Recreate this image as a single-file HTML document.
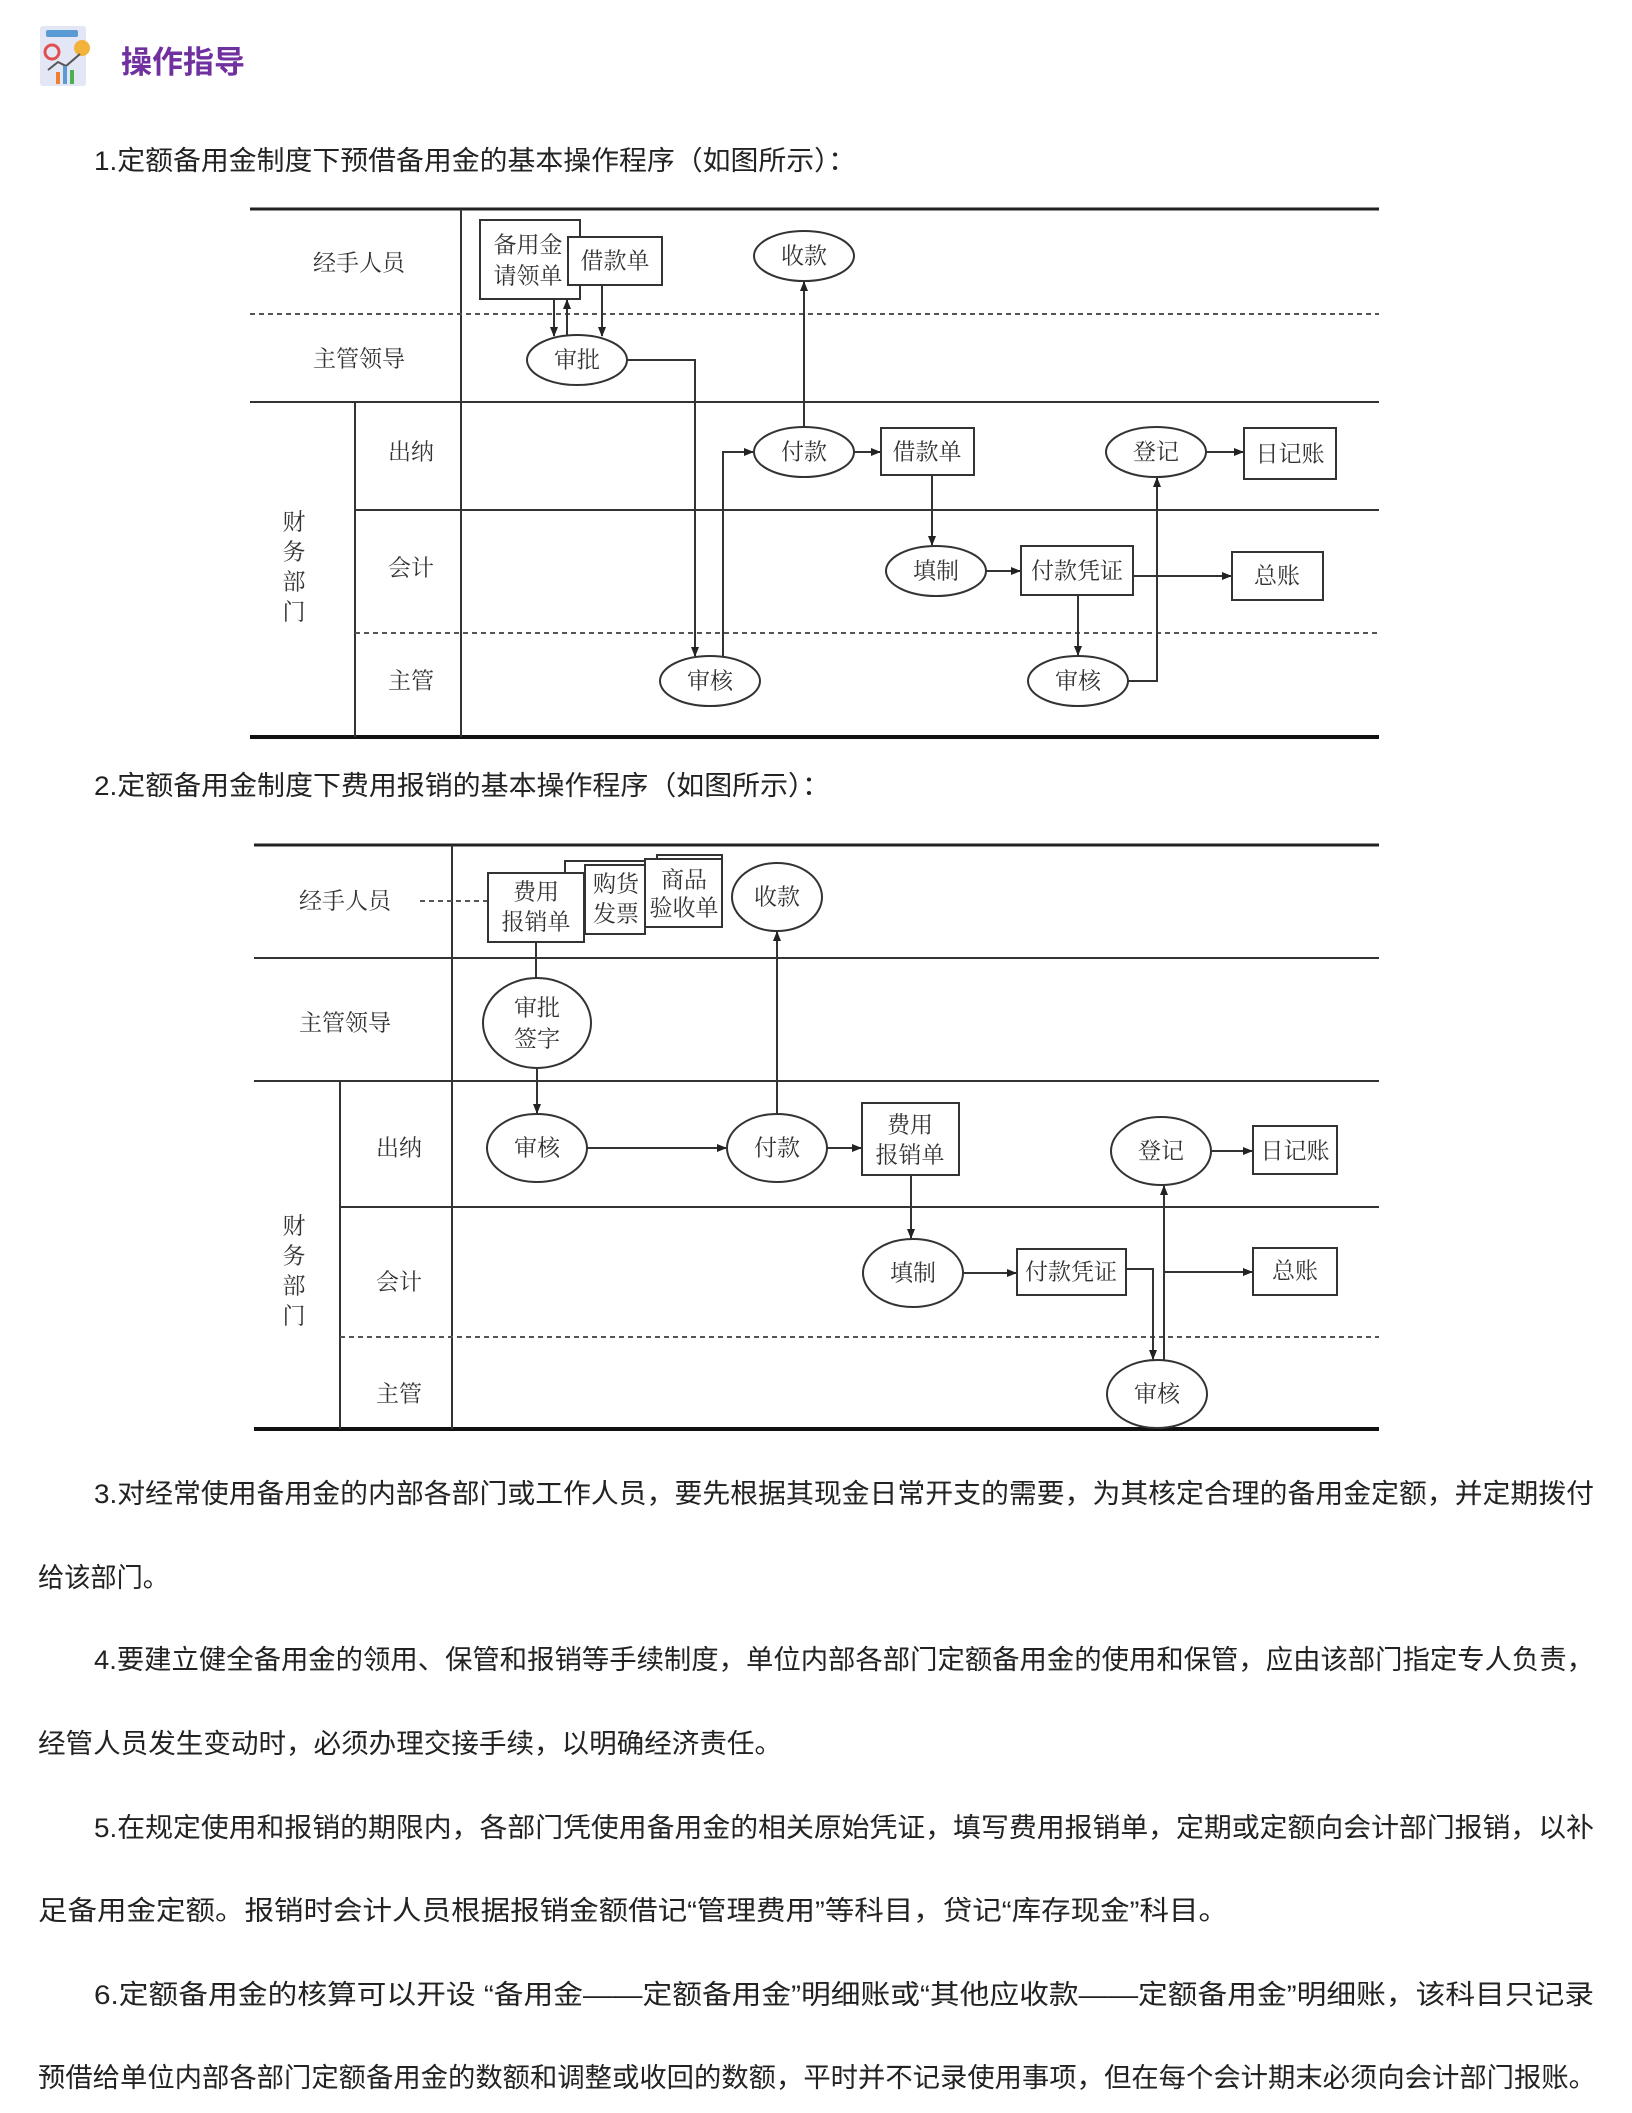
<!DOCTYPE html>
<html><head><meta charset="utf-8"><style>
html,body{margin:0;padding:0;background:#fff;}
svg{display:block;}
.t{font-family:"Liberation Sans","Noto Sans CJK SC",sans-serif;font-size:27px;fill:#222;}
.d{font-family:"Liberation Serif","Noto Serif CJK SC",serif;font-size:23px;fill:#333;}
.ln{stroke:#333;stroke-width:2;fill:none;}
.bx{stroke:#333;stroke-width:2;fill:#fff;}
.ds{stroke:#555;stroke-width:2;stroke-dasharray:5,4;fill:none;}
</style></head><body>
<svg width="1632" height="2113" viewBox="0 0 1632 2113" xmlns="http://www.w3.org/2000/svg">
<defs>
<marker id="a" markerWidth="10" markerHeight="10" refX="9" refY="5" orient="auto" markerUnits="userSpaceOnUse">
<path d="M0,1 L10,5 L0,9 z" fill="#222"/></marker>
</defs>
<!-- header icon -->
<rect x="40" y="26" width="46" height="60" rx="3" fill="#e3e6f5"/>
<rect x="46" y="30" width="32" height="7" rx="2" fill="#5b9bd5"/>
<circle cx="52" cy="52" r="7" fill="none" stroke="#e05050" stroke-width="3"/>
<circle cx="82" cy="48" r="8" fill="#f3b23b"/>
<polyline points="48,70 58,62 66,66 80,54" fill="none" stroke="#555" stroke-width="2"/>
<rect x="56" y="72" width="4" height="12" fill="#f08030"/><rect x="63" y="66" width="4" height="18" fill="#5b9bd5"/><rect x="70" y="70" width="4" height="14" fill="#4caf50"/>
<text x="121" y="73" font-family="Liberation Sans,'Noto Sans CJK SC',sans-serif" font-size="31" font-weight="bold" fill="#7030a0">操作指导</text>

<text class="t" x="94" y="170" textLength="762" lengthAdjust="spacingAndGlyphs">1.定额备用金制度下预借备用金的基本操作程序（如图所示）：</text>

<!-- Diagram 1 -->
<line x1="250" y1="209" x2="1379" y2="209" stroke="#222" stroke-width="3"/>
<line x1="250" y1="737" x2="1379" y2="737" stroke="#111" stroke-width="4"/>
<line x1="461" y1="209" x2="461" y2="737" class="ln"/>
<line x1="250" y1="314" x2="1379" y2="314" class="ds"/>
<line x1="250" y1="402" x2="1379" y2="402" class="ln"/>
<line x1="355" y1="402" x2="355" y2="737" class="ln"/>
<line x1="355" y1="510" x2="1379" y2="510" class="ln"/>
<line x1="355" y1="633" x2="1379" y2="633" class="ds"/>
<g class="d" text-anchor="middle" dominant-baseline="central">
<text x="359" y="263">经手人员</text>
<text x="359" y="359">主管领导</text>
<text x="294" y="522">财</text><text x="294" y="552">务</text><text x="294" y="582">部</text><text x="294" y="612">门</text>
<text x="411" y="452">出纳</text>
<text x="411" y="568">会计</text>
<text x="411" y="681">主管</text>
</g>
<!-- connectors d1 -->
<g class="ln">
<line x1="554" y1="299" x2="554" y2="336" marker-end="url(#a)"/>
<line x1="567" y1="336" x2="567" y2="300" marker-end="url(#a)"/>
<line x1="602" y1="285" x2="602" y2="336" marker-end="url(#a)"/>
<polyline points="627,360 695,360 695,656" marker-end="url(#a)"/>
<polyline points="723,657 723,452 753,452" marker-end="url(#a)"/>
<line x1="804" y1="427" x2="804" y2="282" marker-end="url(#a)"/>
<line x1="854" y1="452" x2="880" y2="452" marker-end="url(#a)"/>
<line x1="932" y1="475" x2="932" y2="545" marker-end="url(#a)"/>
<line x1="986" y1="571" x2="1020" y2="571" marker-end="url(#a)"/>
<line x1="1078" y1="595" x2="1078" y2="655" marker-end="url(#a)"/>
<polyline points="1128,681 1157,681 1157,478" marker-end="url(#a)"/>
<line x1="1206" y1="452" x2="1243" y2="452" marker-end="url(#a)"/>
<line x1="1133" y1="576" x2="1231" y2="576" marker-end="url(#a)"/>
</g>
<g>
<rect class="bx" x="480" y="220" width="100" height="79"/>
<rect class="bx" x="568" y="237" width="94" height="48"/>
<ellipse class="bx" cx="804" cy="256" rx="50" ry="25"/>
<ellipse class="bx" cx="577" cy="360" rx="50" ry="25"/>
<ellipse class="bx" cx="804" cy="452" rx="50" ry="25"/>
<rect class="bx" x="881" y="428" width="93" height="47"/>
<ellipse class="bx" cx="1156" cy="452" rx="50" ry="25"/>
<rect class="bx" x="1244" y="428" width="92" height="51"/>
<ellipse class="bx" cx="936" cy="571" rx="50" ry="25"/>
<rect class="bx" x="1021" y="546" width="112" height="49"/>
<rect class="bx" x="1232" y="552" width="91" height="48"/>
<ellipse class="bx" cx="710" cy="681" rx="50" ry="25"/>
<ellipse class="bx" cx="1078" cy="681" rx="50" ry="25"/>
</g>
<g class="d" text-anchor="middle" dominant-baseline="central">
<text x="528" y="245">备用金</text><text x="528" y="276">请领单</text>
<text x="615" y="261">借款单</text>
<text x="804" y="256">收款</text>
<text x="577" y="360">审批</text>
<text x="804" y="452">付款</text>
<text x="927" y="452">借款单</text>
<text x="1156" y="452">登记</text>
<text x="1290" y="454">日记账</text>
<text x="936" y="571">填制</text>
<text x="1077" y="571">付款凭证</text>
<text x="1277" y="576">总账</text>
<text x="710" y="681">审核</text>
<text x="1078" y="681">审核</text>
</g>

<text class="t" x="94" y="795" textLength="736" lengthAdjust="spacingAndGlyphs">2.定额备用金制度下费用报销的基本操作程序（如图所示）：</text>

<!-- Diagram 2 -->
<line x1="254" y1="845" x2="1379" y2="845" stroke="#222" stroke-width="3"/>
<line x1="254" y1="1429" x2="1379" y2="1429" stroke="#111" stroke-width="4"/>
<line x1="452" y1="845" x2="452" y2="1429" class="ln"/>
<line x1="254" y1="958" x2="1379" y2="958" class="ln"/>
<line x1="254" y1="1081" x2="1379" y2="1081" class="ln"/>
<line x1="340" y1="1081" x2="340" y2="1429" class="ln"/>
<line x1="340" y1="1207" x2="1379" y2="1207" class="ln"/>
<line x1="340" y1="1337" x2="1379" y2="1337" class="ds"/>
<line x1="420" y1="901" x2="488" y2="901" class="ds" stroke-width="1.5"/>
<g class="d" text-anchor="middle" dominant-baseline="central">
<text x="345" y="901">经手人员</text>
<text x="345" y="1023">主管领导</text>
<text x="294" y="1226">财</text><text x="294" y="1256">务</text><text x="294" y="1286">部</text><text x="294" y="1316">门</text>
<text x="399" y="1148">出纳</text>
<text x="399" y="1282">会计</text>
<text x="399" y="1394">主管</text>
</g>
<g class="ln">
<line x1="536" y1="942" x2="536" y2="978"/>
<line x1="537" y1="1068" x2="537" y2="1113" marker-end="url(#a)"/>
<line x1="587" y1="1148" x2="726" y2="1148" marker-end="url(#a)"/>
<line x1="777" y1="1114" x2="777" y2="932" marker-end="url(#a)"/>
<line x1="827" y1="1148" x2="861" y2="1148" marker-end="url(#a)"/>
<line x1="911" y1="1175" x2="911" y2="1238" marker-end="url(#a)"/>
<line x1="963" y1="1273" x2="1016" y2="1273" marker-end="url(#a)"/>
<polyline points="1126,1269 1153,1269 1153,1359" marker-end="url(#a)"/>
<line x1="1164" y1="1360" x2="1164" y2="1186" marker-end="url(#a)"/>
<line x1="1164" y1="1272" x2="1252" y2="1272" marker-end="url(#a)"/>
<line x1="1211" y1="1151" x2="1252" y2="1151" marker-end="url(#a)"/>
</g>
<g>
<rect class="bx" x="657" y="855" width="65" height="68"/>
<rect class="bx" x="645" y="859" width="77" height="68"/>
<rect class="bx" x="565" y="861" width="80" height="70"/>
<rect class="bx" x="585" y="865" width="60" height="69"/>
<rect class="bx" x="488" y="873" width="96" height="69"/>
<ellipse class="bx" cx="777" cy="897" rx="45" ry="34"/>
<ellipse class="bx" cx="537" cy="1023" rx="54" ry="45"/>
<ellipse class="bx" cx="537" cy="1148" rx="50" ry="34"/>
<ellipse class="bx" cx="777" cy="1148" rx="50" ry="34"/>
<rect class="bx" x="862" y="1103" width="97" height="72"/>
<ellipse class="bx" cx="1161" cy="1151" rx="50" ry="34"/>
<rect class="bx" x="1253" y="1126" width="84" height="48"/>
<ellipse class="bx" cx="913" cy="1273" rx="50" ry="34"/>
<rect class="bx" x="1017" y="1249" width="109" height="46"/>
<rect class="bx" x="1253" y="1248" width="84" height="47"/>
<ellipse class="bx" cx="1157" cy="1394" rx="50" ry="34"/>
</g>
<g class="d" text-anchor="middle" dominant-baseline="central">
<text x="536" y="892">费用</text><text x="536" y="922">报销单</text>
<text x="616" y="884">购货</text><text x="616" y="914">发票</text>
<text x="684" y="880">商品</text><text x="684" y="908">验收单</text>
<text x="777" y="897">收款</text>
<text x="537" y="1008">审批</text><text x="537" y="1039">签字</text>
<text x="537" y="1148">审核</text>
<text x="777" y="1148">付款</text>
<text x="910" y="1125">费用</text><text x="910" y="1155">报销单</text>
<text x="1161" y="1151">登记</text>
<text x="1295" y="1151">日记账</text>
<text x="913" y="1273">填制</text>
<text x="1071" y="1272">付款凭证</text>
<text x="1295" y="1271">总账</text>
<text x="1157" y="1394">审核</text>
</g>

<!-- paragraphs -->
<g class="t">
<text x="94" y="1503" textLength="1500" lengthAdjust="spacingAndGlyphs">3.对经常使用备用金的内部各部门或工作人员，要先根据其现金日常开支的需要，为其核定合理的备用金定额，并定期拨付</text>
<text x="38" y="1587" textLength="131" lengthAdjust="spacingAndGlyphs">给该部门。</text>
<text x="94" y="1669" textLength="1500" lengthAdjust="spacingAndGlyphs">4.要建立健全备用金的领用、保管和报销等手续制度，单位内部各部门定额备用金的使用和保管，应由该部门指定专人负责，</text>
<text x="38" y="1753" textLength="744" lengthAdjust="spacingAndGlyphs">经管人员发生变动时，必须办理交接手续，以明确经济责任。</text>
<text x="94" y="1837" textLength="1500" lengthAdjust="spacingAndGlyphs">5.在规定使用和报销的期限内，各部门凭使用备用金的相关原始凭证，填写费用报销单，定期或定额向会计部门报销，以补</text>
<text x="38" y="1920" textLength="1190" lengthAdjust="spacingAndGlyphs">足备用金定额。报销时会计人员根据报销金额借记“管理费用”等科目，贷记“库存现金”科目。</text>
<text x="94" y="2004" textLength="1500" lengthAdjust="spacingAndGlyphs">6.定额备用金的核算可以开设 “备用金——定额备用金”明细账或“其他应收款——定额备用金”明细账，该科目只记录</text>
<text x="38" y="2087" textLength="1558" lengthAdjust="spacingAndGlyphs">预借给单位内部各部门定额备用金的数额和调整或收回的数额，平时并不记录使用事项，但在每个会计期末必须向会计部门报账。</text>
</g>
</svg>
</body></html>
